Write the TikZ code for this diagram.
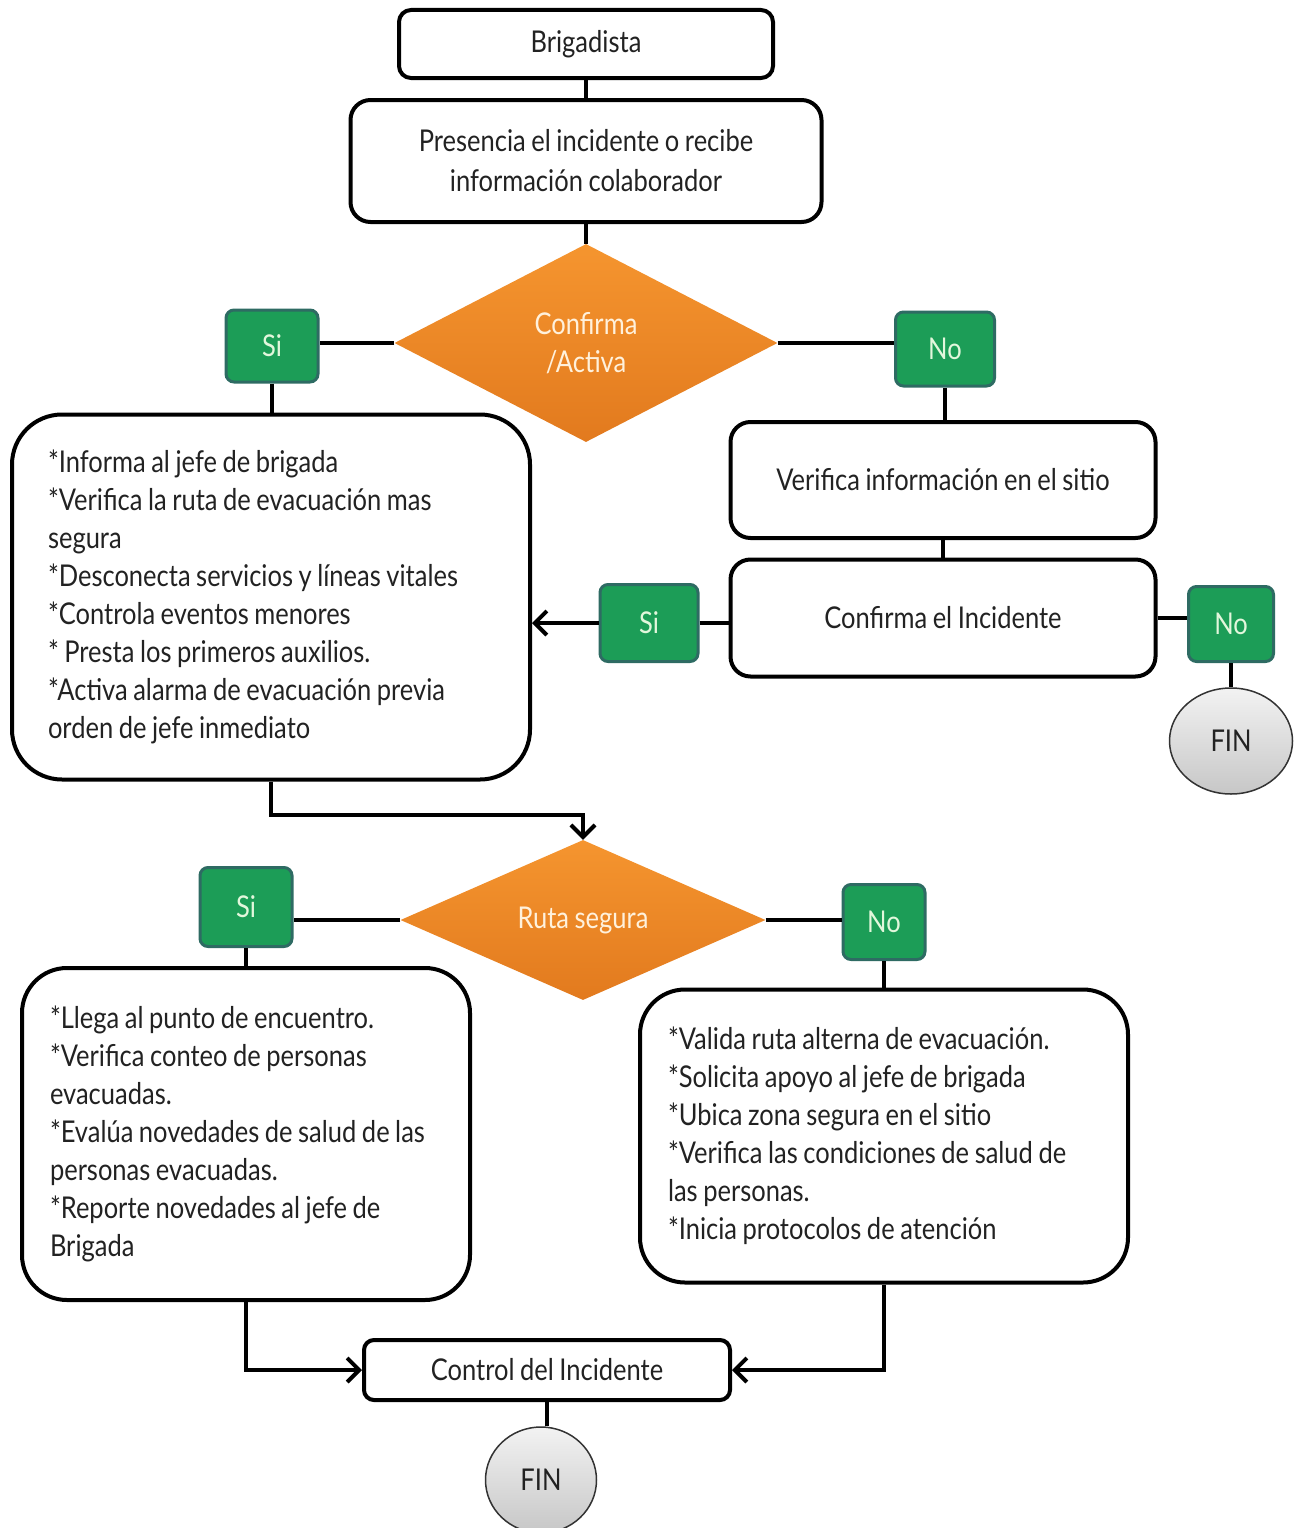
\documentclass[tikz,border=0pt]{standalone}
\usepackage{fontspec}
\setmainfont{Lato}[FakeStretch=0.85, WordSpace=0.85]
\usetikzlibrary{shapes.geometric,arrows.meta}
\definecolor{gfill}{HTML}{1C9D57}
\definecolor{gborder}{HTML}{2E6B63}
\definecolor{gtext}{HTML}{E2F7DC}
\definecolor{otop}{HTML}{F5952F}
\definecolor{obot}{HTML}{E27A1E}
\definecolor{otext}{HTML}{FFF1DC}
\definecolor{txt}{HTML}{222222}
\begin{document}
\begin{tikzpicture}[x=1pt,y=-1pt,
  every node/.style={font=\fontsize{30}{38}\selectfont, text=txt},
  box/.style={draw, line width=4pt, fill=white, inner sep=0pt, rounded corners=#1},
  box/.default=14pt,
  tbox/.style={box=#1, align=flush left},
  gbox/.style={draw=gborder, line width=3pt, fill=gfill, rounded corners=8pt, inner sep=0pt, text=gtext},
  dec/.style={diamond, inner sep=0pt, top color=otop, bottom color=obot, draw=none, text=otext, align=center},
  fin/.style={ellipse, draw=black!80, line width=1.5pt, top color=white!95!black, bottom color=black!22, inner sep=0pt},
  conn/.style={line width=4.5pt},
  arr/.style={line width=4.5pt, -{Straight Barb[length=12pt,width=24pt,line width=4pt]}}
]
\useasboundingbox (0,0) rectangle (1302,1528);

\node[box=12pt, minimum width=374pt, minimum height=68pt] (brig) at (586,44) {Brigadista};
\node[box=20pt, minimum width=471pt, minimum height=122pt, align=center] (pres) at (586,161)
  {Presencia el incidente o recibe\\[2pt]información colaborador};

\node[dec, minimum width=383pt, minimum height=198pt] (d1) at (586,343) {Confirma\\/Activa};
\node[gbox, minimum width=92pt, minimum height=72pt] (si1) at (272,346) {Si};
\node[gbox, minimum width=99pt, minimum height=74pt] (no1) at (945,349) {No};

\node[tbox=50pt, minimum width=518pt, minimum height=365pt, text width=446pt] (lb1) at (271,597)
  {*Informa al jefe de brigada\\{}%
   *Verifica la ruta de evacuación mas\\{}%
   segura\\{}%
   *Desconecta servicios y líneas vitales\\{}%
   *Controla eventos menores\\{}%
   * Presta los primeros auxilios.\\{}%
   *Activa alarma de evacuación previa\\{}%
   orden de jefe inmediato};

\node[box=20pt, minimum width=425pt, minimum height=116pt] (ver) at (943,480) {Verifica información en el sitio};
\node[box=20pt, minimum width=425pt, minimum height=117pt] (conf) at (943,618) {Confirma el Incidente};
\node[gbox, minimum width=98pt, minimum height=77pt] (si2) at (649,623) {Si};
\node[gbox, minimum width=85pt, minimum height=75pt] (no2) at (1231,624) {No};
\node[fin, minimum width=123pt, minimum height=106pt] (fin1) at (1231,741) {FIN};

\node[dec, minimum width=365pt, minimum height=160pt] (d2) at (583,920) {Ruta segura};
\node[gbox, minimum width=92pt, minimum height=79pt] (si3) at (246,907) {Si};
\node[gbox, minimum width=82pt, minimum height=75pt] (no3) at (884,922) {No};

\node[tbox=45pt, minimum width=448pt, minimum height=332pt, text width=392pt] (lb2) at (246,1134)
  {*Llega al punto de encuentro.\\{}%
   *Verifica conteo de personas\\{}%
   evacuadas.\\{}%
   *Evalúa novedades de salud de las\\{}%
   personas evacuadas.\\{}%
   *Reporte novedades al jefe de\\{}%
   Brigada};
\node[tbox=45pt, minimum width=488pt, minimum height=293pt, text width=432pt] (rb2) at (884,1136)
  {*Valida ruta alterna de evacuación.\\{}%
   *Solicita apoyo al jefe de brigada\\{}%
   *Ubica zona segura en el sitio\\{}%
   *Verifica las condiciones de salud de\\{}%
   las personas.\\{}%
   *Inicia protocolos de atención};

\node[box=10pt, minimum width=366pt, minimum height=60pt] (ctrl) at (547,1370) {Control del Incidente};
\node[fin, minimum width=111pt, minimum height=106pt] (fin2) at (541,1480) {FIN};

\coordinate (k1) at (583,815);

\draw[conn] (brig.south) -- (pres.north);
\draw[conn] (pres.south) -- (d1.north);
\draw[conn] (d1.west) -- (d1.west -| si1.east);
\draw[conn] (d1.east) -- (d1.east -| no1.west);
\draw[conn] (si1.south) -- (si1.south |- lb1.north);
\draw[conn] (no1.south) -- (no1.south |- ver.north);
\draw[conn] (ver.south) -- (conf.north);
\draw[conn] (si2.east) -- (si2.east -| conf.west);
\draw[conn] (conf.east) -- (conf.east -| no2.west);
\draw[conn] (no2.south) -- (no2.south |- fin1.north);
\draw[arr] (si2.west) -- (si2.west -| lb1.east);
\draw[arr] (lb1.south) |- (k1) -- (d2.north);
\draw[conn] (d2.west) -- (d2.west -| si3.east);
\draw[conn] (d2.east) -- (d2.east -| no3.west);
\draw[conn] (si3.south) -- (si3.south |- lb2.north);
\draw[conn] (no3.south) -- (no3.south |- rb2.north);
\draw[arr] (lb2.south) |- (ctrl.west);
\draw[arr] (rb2.south) |- (ctrl.east);
\draw[conn] (ctrl.south) -- (ctrl.south |- fin2.north);
\end{tikzpicture}
\end{document}
